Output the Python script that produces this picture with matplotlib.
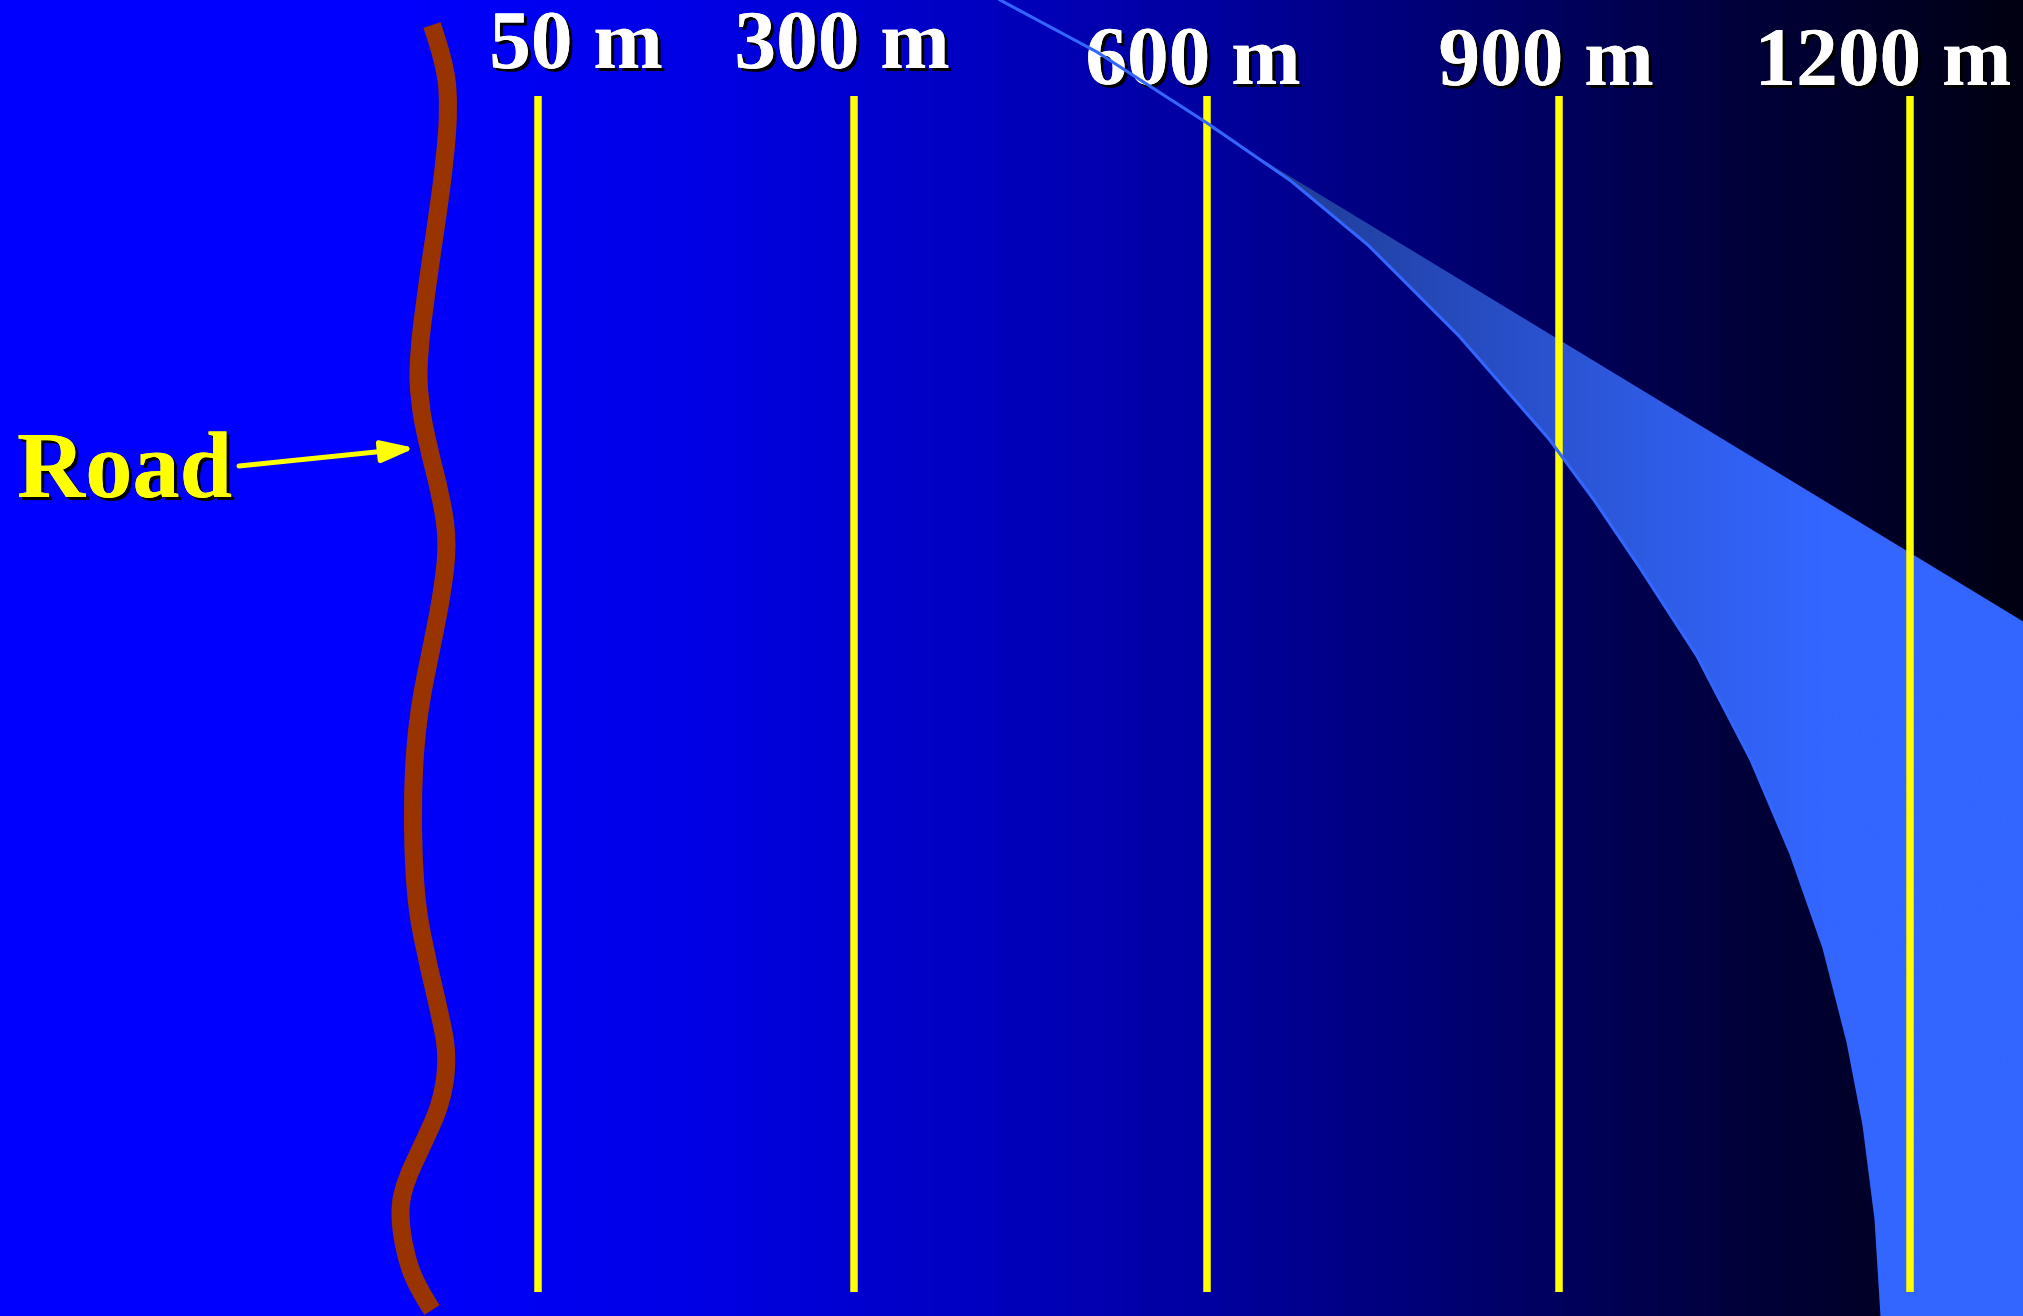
import numpy as np
import matplotlib
matplotlib.use("Agg")
import matplotlib.pyplot as plt
import matplotlib.patheffects as pe
from matplotlib.patches import Polygon, PathPatch
from matplotlib.path import Path
from matplotlib.colors import LinearSegmentedColormap

W, H = 2024, 1316

# distance markers (pixel positions)
labels = ["50 m", "300 m", "600 m", "900 m", "1200 m"]
line_x = [538, 854, 1207, 1559, 1910]
label_x = [576, 842, 1193, 1546, 1883]
label_y = [68, 68, 84, 85, 85]
line_top, line_bottom = 96, 1292

# road (wavy brown line), used as bezier control points
road_x = [432, 445, 449, 445, 437, 427, 418, 419, 428, 440, 448, 443, 433,
          417, 412, 415, 425, 440, 448, 442, 423, 405, 399, 405, 417, 432]
road_y = [25, 63, 105, 160, 219, 286, 358, 400, 446, 492, 539, 589, 640,
          719, 803, 896, 951, 1014, 1056, 1102, 1144, 1182, 1212, 1254, 1287, 1310]

# curved boundary (thin light blue line)
curve_x = [1000, 1097, 1207, 1291, 1368, 1459, 1549, 1594, 1640, 1697, 1751,
           1791, 1824, 1848, 1864, 1876, 1882]
curve_y = [0, 52, 123, 181, 245, 336, 439, 500, 568, 656, 760,
           854, 948, 1042, 1125, 1219, 1316]

# straight upper edge of the shaded wedge
edge_x = [1207, 2024]
edge_y = [126, 622]

fig = plt.figure(figsize=(W / 100, H / 100), dpi=100)
ax = fig.add_axes([0, 0, 1, 1])
ax.set_xlim(0, W)
ax.set_ylim(H, 0)
ax.axis("off")

# background gradient blue -> black
bg_cmap = LinearSegmentedColormap.from_list("bg", [
    (0.0, "#0000ff"), (380 / W, "#0000ff"), (700 / W, "#0000e4"),
    (1000 / W, "#0000bd"), (1207 / W, "#0000a0"), (1400 / W, "#00007c"),
    (1559 / W, "#00005e"), (1750 / W, "#00003a"), (1910 / W, "#000024"),
    (1.0, "#000012")])
grad = np.linspace(0, 1, 512).reshape(1, -1)
ax.imshow(grad, cmap=bg_cmap, extent=[0, W, H, 0], aspect="auto", zorder=0)

# shaded wedge with horizontal gradient
poly_pts = [(x, y) for x, y in zip(curve_x, curve_y) if x >= 1207]
poly_pts += [(W, H), (edge_x[1], edge_y[1]), (edge_x[0], edge_y[0])]
wedge = Polygon(poly_pts, closed=True, facecolor="none", edgecolor="none")
ax.add_patch(wedge)
w_cmap = LinearSegmentedColormap.from_list("wedge", [
    (0.0, "#1e3784"), (0.25, "#2447b4"), (0.55, "#2f5ce6"),
    (0.75, "#3366ff"), (1.0, "#3366ff")])
im = ax.imshow(grad, cmap=w_cmap, extent=[1207, W, H, 0], aspect="auto", zorder=1)
im.set_clip_path(wedge)

# yellow distance lines
for x in line_x:
    ax.plot([x, x], [line_top, line_bottom], color="#ffff00", lw=5.4,
            solid_capstyle="butt", zorder=3)

shadow = [pe.withSimplePatchShadow(offset=(2.2, -2.2), shadow_rgbFace="black", alpha=1.0),
          pe.Normal()]

for lab, x, y in zip(labels, label_x, label_y):
    ax.text(x, y, lab, color="white", fontsize=60, fontweight="bold",
            family="Liberation Serif", ha="center", va="baseline",
            path_effects=shadow, zorder=4)

# curve line drawn on top
ax.plot(curve_x, curve_y, color="#3366ff", lw=2.2, zorder=5)

# road as a smooth quadratic bezier through the control points
pts = list(zip(road_x, road_y))
verts = [pts[0]]
codes = [Path.MOVETO]
for i in range(1, len(pts) - 2):
    mid = ((pts[i][0] + pts[i + 1][0]) / 2, (pts[i][1] + pts[i + 1][1]) / 2)
    verts += [pts[i], mid]
    codes += [Path.CURVE3, Path.CURVE3]
verts += [pts[-2], pts[-1]]
codes += [Path.CURVE3, Path.CURVE3]
road = PathPatch(Path(verts, codes), facecolor="none", edgecolor="#993300",
                 lw=13, capstyle="butt", joinstyle="round", zorder=3)
ax.add_patch(road)

# road label + arrow
ax.text(17, 497, "Road", color="#ffff00", fontsize=68, fontweight="bold",
        family="Liberation Serif", ha="left", va="baseline",
        path_effects=shadow, zorder=4)
ax.annotate("", xy=(415, 448), xytext=(239, 466),
            arrowprops=dict(arrowstyle="-|>,head_length=0.4,head_width=0.13",
                            mutation_scale=50, lw=3.6, color="#ffff00",
                            shrinkA=0, shrinkB=0), zorder=4)

fig.savefig("out.png", dpi=100)
